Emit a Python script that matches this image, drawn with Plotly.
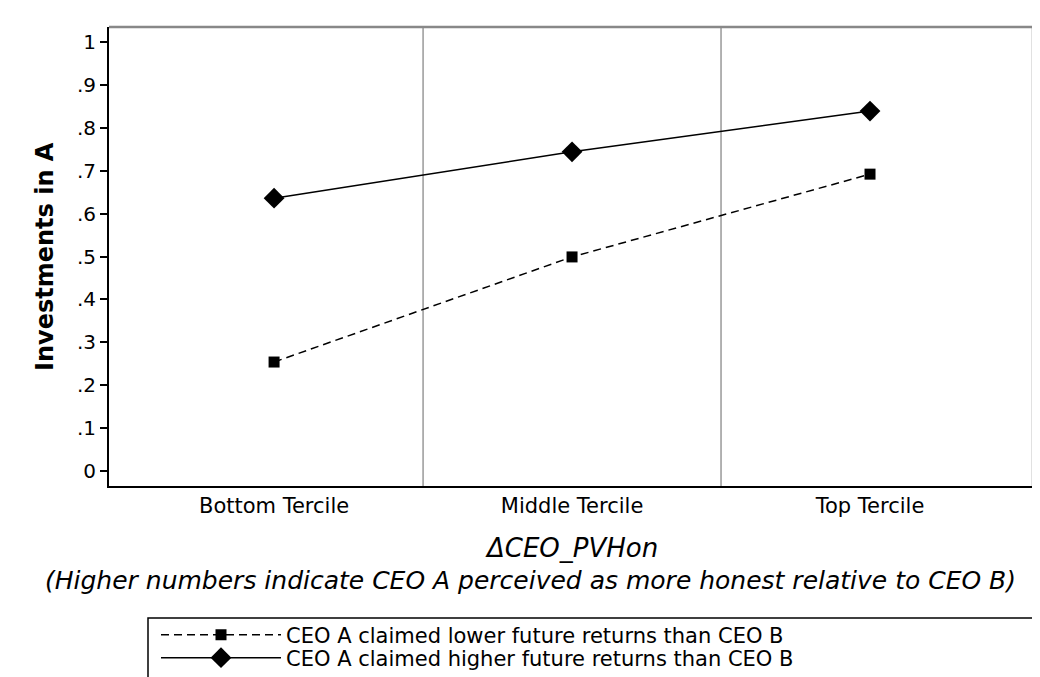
import plotly.graph_objects as go

categories = ["Bottom Tercile", "Middle Tercile", "Top Tercile"]
cat_pos = [1, 2, 3]
lower_returns = [0.254, 0.499, 0.692]
higher_returns = [0.636, 0.744, 0.839]
series_names = ["CEO A claimed lower future returns than CEO B",
                "CEO A claimed higher future returns than CEO B"]
y_tickvals = [0, 0.1, 0.2, 0.3, 0.4, 0.5, 0.6, 0.7, 0.8, 0.9, 1]
y_ticktext = ["0", ".1", ".2", ".3", ".4", ".5", ".6", ".7", ".8", ".9", "1"]
dividers = [1.5, 2.5]

FONT = "DejaVu Sans, Arial, sans-serif"

# page offset (body margin) compensation
OX, OY = 8, 8
L, R, T, B = 109 - OX, 1033 - OX, 27 - OY, 486 - OY
PW, PH = R - L, B - T


def px(xp):
    return (xp - OX - L) / PW


def py(yp):
    return (B - (yp - OY)) / PH


fig = go.Figure()
fig.add_trace(go.Scatter(
    x=cat_pos, y=lower_returns, mode="lines+markers", name=series_names[0],
    line=dict(color="black", width=1.5, dash="8px,5px"),
    marker=dict(symbol="square", size=11, color="black"),
    legend="legend",
))
fig.add_trace(go.Scatter(
    x=cat_pos, y=higher_returns, mode="lines+markers", name=series_names[1],
    line=dict(color="black", width=1.5),
    marker=dict(symbol="diamond", size=16, color="black"),
    legend="legend2",
))

shapes = []
for d in dividers:
    shapes.append(dict(type="line", xref="x", yref="paper", x0=d, x1=d, y0=0, y1=1,
                       line=dict(color="#666666", width=1), layer="below"))
shapes.append(dict(type="line", xref="paper", yref="paper", x0=0, x1=1, y0=1, y1=1,
                   line=dict(color="#888888", width=2.5)))
shapes.append(dict(type="line", xref="paper", yref="paper", x0=1, x1=1, y0=0, y1=1,
                   line=dict(color="#888888", width=2.5)))
shapes.append(dict(type="rect", xref="paper", yref="paper",
                   x0=px(148), x1=px(1036), y0=py(700), y1=py(618),
                   line=dict(color="black", width=1.5), fillcolor="rgba(0,0,0,0)"))

leg_common = dict(xanchor="left", yanchor="middle", xref="paper", yref="paper",
                  bgcolor="rgba(0,0,0,0)", borderwidth=0,
                  font=dict(size=21, family=FONT), itemwidth=120, tracegroupgap=0)

fig.update_layout(
    template="none",
    width=1040, height=677,
    margin=dict(l=L, r=1040 - R, t=T, b=677 - B, autoexpand=False),
    paper_bgcolor="white", plot_bgcolor="white",
    font=dict(family=FONT, color="black", size=20),
    shapes=shapes,
    showlegend=True,
    legend=dict(x=px(156), y=py(635), **leg_common),
    legend2=dict(x=px(156), y=py(658), **leg_common),
    xaxis=dict(range=[0.446, 3.547], tickvals=cat_pos, ticktext=categories,
               showgrid=False, zeroline=False, showline=True, linecolor="black", linewidth=2,
               ticks="", tickfont=dict(size=21), ticklabelstandoff=0, automargin=False),
    yaxis=dict(range=[-0.035, 1.035], tickvals=y_tickvals, ticktext=y_ticktext,
               showgrid=False, zeroline=False, showline=True, linecolor="black", linewidth=2,
               ticks="outside", ticklen=7, tickwidth=1.5, tickcolor="black",
               tickfont=dict(size=20), automargin=False),
    annotations=[
        dict(text="<b>Investments in A</b>", xref="paper", yref="paper",
             x=px(45), y=py(257), xanchor="center", yanchor="middle", textangle=-90,
             showarrow=False, font=dict(size=24)),
        dict(text="<i>ΔCEO_PVHon</i>", xref="paper", yref="paper",
             x=px(571), y=py(548), xanchor="center", yanchor="middle",
             showarrow=False, font=dict(size=26)),
        dict(text="<i>(Higher numbers indicate CEO A perceived as more honest relative to CEO B)</i>",
             xref="paper", yref="paper",
             x=px(530), y=py(580), xanchor="center", yanchor="middle",
             showarrow=False, font=dict(size=25)),
    ],
)

fig.write_html("out.html")
